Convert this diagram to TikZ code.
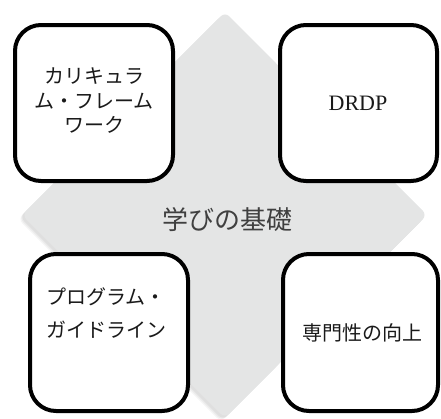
\documentclass[tikz,border=0pt]{standalone}
\usepackage{fontspec}
\newfontfamily\cjk{Noto Sans CJK JP}
\newfontfamily\latinserif{Liberation Serif}
\definecolor{diamondgray}{HTML}{E4E5E5}
\definecolor{shadowgray}{HTML}{BDBDBD}
\definecolor{txt}{HTML}{1A1A1A}
\tikzset{
  card/.style={draw=black, line width=4pt, fill=white, rounded corners=26pt, inner sep=0pt},
  cardtext/.style={text=txt, font=\cjk\fontsize{20}{24.5}\selectfont, inner sep=0pt},
  diamondshape/.style={fill=diamondgray, rounded corners=6pt},
}
\begin{document}
\begin{tikzpicture}[x=1pt,y=-1pt]
\useasboundingbox (0,0) rectangle (441,418);
% shadow of the diamond (soft, lower left)
\foreach \o/\op in {4/0.15,3/0.2,2/0.25}{
  \fill[shadowgray, opacity=\op, rounded corners=6pt]
    (225-\o,12+\o) -- (427-\o,215+\o) -- (225-\o,418+\o) -- (22-\o,215+\o) -- cycle;
}
\fill[diamondshape] (225,12) -- (427,215) -- (225,418) -- (22,215) -- cycle;
% boxes
\draw[card] (15,25) rectangle (173,181);
\draw[card] (280,25) rectangle (437,181);
\draw[card] (30,254) rectangle (188,411);
\draw[card] (283,254) rectangle (438,411);
\node[cardtext, align=center, anchor=center] (t1) at (94,101) {カリキュラ\\ム・フレーム\\ワーク};
\node[text=txt, font=\latinserif\fontsize{22}{26}\selectfont, inner sep=0pt] (t2) at (358,103) {DRDP};
\node[cardtext, align=left, anchor=west, font=\cjk\fontsize{20}{33}\selectfont] (t3) at (46,313) {プログラム・\\ガイドライン};
\node[cardtext] (t4) at (362,333) {専門性の向上};
\node[text=black!75, font=\cjk\fontsize{26}{30}\selectfont, inner sep=0pt] (center) at (227,220) {学びの基礎};
\end{tikzpicture}
\end{document}
